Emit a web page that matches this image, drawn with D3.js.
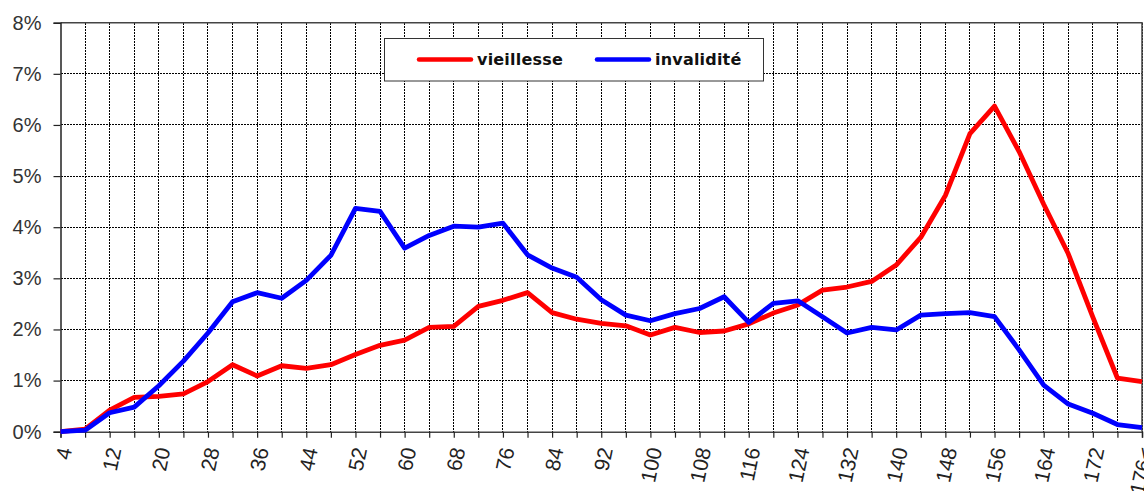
<!DOCTYPE html>
<html>
<head>
<meta charset="utf-8">
<script src="https://cdn.jsdelivr.net/npm/d3@7"></script>
<style>
  html, body { margin: 0; padding: 0; background: #fff; }
  svg { display: block; }
</style>
</head>
<body>
<svg id="chart" width="1144" height="491"></svg>
<script>
// Age in months (category labels)
const categories = [
  "4","8","12","16","20","24","28","32","36","40","44","48","52","56","60","64",
  "68","72","76","80","84","88","92","96","100","104","108","112","116","120",
  "124","128","132","136","140","144","148","152","156","160","164","168","172",
  "176","176<"
];
// Share of pensions, in percent
const vieillesse = [
  0.00, 0.05, 0.42, 0.67, 0.69, 0.74, 0.98, 1.31, 1.09, 1.29, 1.24, 1.31, 1.51,
  1.69, 1.79, 2.04, 2.06, 2.45, 2.57, 2.72, 2.33, 2.20, 2.12, 2.07, 1.89, 2.04,
  1.94, 1.97, 2.11, 2.32, 2.48, 2.77, 2.83, 2.94, 3.26, 3.80, 4.62, 5.83, 6.37,
  5.48, 4.45, 3.48, 2.24, 1.05, 0.98
];
const invalidite = [
  0.00, 0.03, 0.37, 0.48, 0.90, 1.38, 1.93, 2.54, 2.72, 2.61, 2.96, 3.45, 4.37,
  4.31, 3.59, 3.84, 4.02, 4.00, 4.08, 3.46, 3.20, 3.02, 2.58, 2.28, 2.17, 2.31,
  2.41, 2.64, 2.14, 2.51, 2.56, 2.25, 1.93, 2.04, 1.99, 2.28, 2.31, 2.33, 2.25,
  1.60, 0.91, 0.54, 0.36, 0.14, 0.08
];
const yTicks = [0, 1, 2, 3, 4, 5, 6, 7, 8];
const seriesNames = ["vieillesse", "invalidité"];
const seriesColors = ["#ff0000", "#0000ff"];

const svg = d3.select("#chart");
const plotL = 60.5, plotR = 1142, plotT = 22.7, plotB = 431.7;

const x = d3.scalePoint().domain(categories).range([plotL, plotR]);
const y = d3.scaleLinear().domain([0, 8]).range([plotB, plotT]);

// Horizontal dashed grid
svg.append("g")
  .selectAll("line")
  .data(yTicks.slice(1))
  .join("line")
  .attr("x1", plotL).attr("x2", plotR)
  .attr("y1", d => y(d)).attr("y2", d => y(d))
  .attr("stroke", "#000").attr("stroke-width", 1)
  .attr("stroke-dasharray", "2,1")
  .attr("shape-rendering", "crispEdges");

// Vertical dashed grid, one per category
svg.append("g")
  .selectAll("line")
  .data(categories.slice(1))
  .join("line")
  .attr("x1", d => x(d)).attr("x2", d => x(d))
  .attr("y1", plotT).attr("y2", plotB)
  .attr("stroke", "#000").attr("stroke-width", 1)
  .attr("stroke-dasharray", "2,1")
  .attr("shape-rendering", "crispEdges");

// Plot frame: top and right edges
svg.append("path")
  .attr("d", `M${plotL},${plotT}H${plotR}V${plotB}`)
  .attr("fill", "none").attr("stroke", "#444").attr("stroke-width", 1.5);

// Y axis
const yAxis = svg.append("g")
  .attr("transform", `translate(${plotL},0)`)
  .call(d3.axisLeft(y).tickValues(yTicks).tickSize(7).tickPadding(12)
    .tickFormat(d => d + "%"));
yAxis.select(".domain").attr("stroke", "#222").attr("stroke-width", 1.5);
yAxis.selectAll(".tick line").attr("stroke", "#222").attr("stroke-width", 1.2);
yAxis.selectAll(".tick text")
  .attr("font-family", "Liberation Sans, Arial, sans-serif")
  .attr("font-size", 20).attr("fill", "#333");

// X axis, labelled on every other category
const xAxis = svg.append("g")
  .attr("transform", `translate(0,${plotB})`)
  .call(d3.axisBottom(x).tickSize(6)
    .tickFormat((d, i) => (i % 2 === 0 ? d : "")));
xAxis.select(".domain").attr("stroke", "#444").attr("stroke-width", 1.5);
xAxis.selectAll(".tick line").attr("stroke", "#222").attr("stroke-width", 1.2);
xAxis.selectAll(".tick text")
  .attr("font-family", "Liberation Sans, Arial, sans-serif")
  .attr("font-size", 21).attr("fill", "#222")
  .attr("text-anchor", "end")
  .attr("dy", "0.35em")
  .attr("transform", "translate(4,16) rotate(-78)")
  .attr("x", 0).attr("y", 0);

// Series lines
const line = d3.line()
  .x((d, i) => x(categories[i]))
  .y(d => y(d));

[vieillesse, invalidite].forEach((vals, k) => {
  svg.append("path")
    .datum(vals)
    .attr("fill", "none")
    .attr("stroke", seriesColors[k])
    .attr("stroke-width", 4.8)
    .attr("stroke-linejoin", "round")
    .attr("d", line);
});

// Legend
const legend = svg.append("g");
legend.append("rect")
  .attr("x", 384.5).attr("y", 38.5).attr("width", 379).attr("height", 42.5)
  .attr("fill", "#fff").attr("stroke", "#333").attr("stroke-width", 1);
const legendItems = [
  { name: seriesNames[0], color: seriesColors[0], x0: 419 },
  { name: seriesNames[1], color: seriesColors[1], x0: 597 }
];
legendItems.forEach(it => {
  legend.append("line")
    .attr("x1", it.x0).attr("x2", it.x0 + 52)
    .attr("y1", 59.5).attr("y2", 59.5)
    .attr("stroke", it.color).attr("stroke-width", 4.5)
    .attr("stroke-linecap", "round");
  legend.append("text")
    .attr("x", it.x0 + 58).attr("y", 59.5)
    .attr("dy", "0.35em")
    .attr("font-family", "DejaVu Sans, Verdana, sans-serif")
    .attr("font-weight", "bold").attr("font-size", 16)
    .attr("letter-spacing", 0.2)
    .attr("fill", "#111")
    .text(it.name);
});
</script>
</body>
</html>
